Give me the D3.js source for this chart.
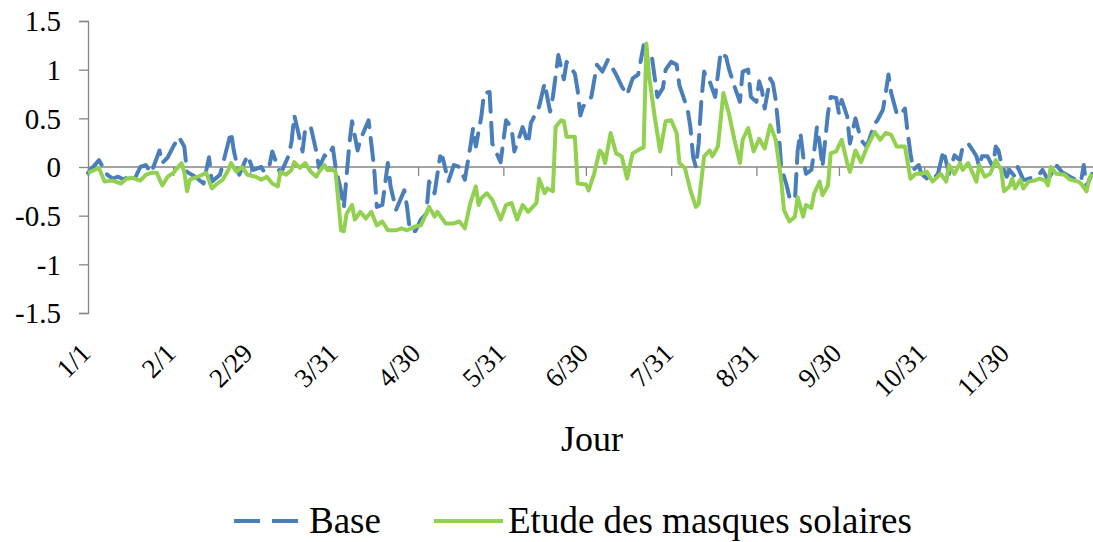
<!DOCTYPE html>
<html>
<head>
<meta charset="utf-8">
<script src="https://cdn.jsdelivr.net/npm/d3@7"></script>
<style>
  html, body { margin: 0; padding: 0; background: #fff; }
  svg { display: block; }
  svg text { font-family: "Liberation Serif", "Times New Roman", Times, serif; fill: #000; }
</style>
</head>
<body>
<svg id="chart" width="1093" height="542" font-family="Liberation Serif, Times New Roman, serif"></svg>
<script>
// Day-of-year tick positions and their labels (leap year)
const tickDays = [1, 32, 60, 91, 121, 152, 182, 213, 244, 274, 305, 335];
const tickLabels = ["1/1", "2/1", "2/29", "3/31", "4/30", "5/31", "6/30", "7/31", "8/31", "9/30", "10/31", "11/30"];
const yTicks = [-1.5, -1, -0.5, 0, 0.5, 1, 1.5];

// Series: [day, value]
const baseSeries = [
  [1,-0.06],[5,0.07],[8,-0.08],[10,-0.12],[12,-0.1],[14,-0.13],[16,-0.09],[18,-0.12],[20,0],[22,0.02],
  [24,-0.06],[27,0.17],[28,0.04],[30,0.1],[32,0.21],[34,0.31],[36,0.21],[37,-0.05],[40,-0.1],[43,-0.17],
  [45,0.1],[46,-0.15],[49,-0.08],[51,0.14],[53,0.36],[54,0.17],[56,-0.08],[59,0.12],[61,-0.03],[64,0],
  [65,-0.05],[67,0.02],[68,0.16],[70,0],[71,-0.07],[74,0.12],[75,0.26],[76,0.53],[77,0.41],[79,0.16],
  [80,0.4],[82,0.41],[84,0.16],[85,-0.01],[87,0.12],[88,0.1],[90,0.2],[91,0],[93,-0.25],[94,-0.42],
  [96,0.23],[97,0.47],[99,0.17],[100,0.28],[103,0.48],[105,0.0],[106,-0.41],[108,-0.39],[110,0.04],[111,-0.2],
  [113,-0.44],[116,-0.24],[117,-0.41],[118,-0.65],[120,-0.66],[122,-0.54],[124,-0.48],[125,-0.15],[127,-0.27],[129,0.11],
  [130,0.09],[132,-0.15],[134,0.02],[136,0],[138,-0.13],[140,0.21],[141,0.4],[142,0.21],[144,0.52],[145,0.76],
  [147,0.77],[148,0.24],[151,0.05],[153,0.48],[155,0.4],[156,0.16],[159,0.41],[161,0.24],[162,0.45],[165,0.62],
  [167,0.86],[169,0.57],[170,0.72],[172,1.15],[174,0.9],[175,1.08],[178,0.96],[179,0.79],[180,0.53],[181,0.62],
  [184,0.72],[186,1.05],[188,0.98],[190,1.1],[193,0.95],[195,0.83],[197,0.74],[199,0.91],[201,0.95],[203,1.25],
  [206,1.13],[208,0.72],[210,0.81],[211,1.0],[213,1.08],[215,1.05],[216,0.84],[219,0.59],[220,0.41],[221,0.1],
  [222,0],[223,0.24],[224,0.69],[225,0.98],[226,0.89],[227,0.88],[229,0.72],[231,1.18],[233,1.13],[234,1.01],
  [236,0.83],[238,0.67],[239,0.98],[241,1.0],[242,0.72],[244,0.67],[245,0.88],[246,0.79],[247,0.6],[249,0.91],
  [250,0.86],[251,0.69],[252,0.41],[253,0],[255,-0.19],[256,-0.31],[258,-0.34],[259,0.17],[260,0.35],[261,0.11],
  [262,-0.07],[264,-0.03],[265,0.16],[266,0.41],[267,0.24],[268,0],[270,0.55],[271,0.72],[273,0.71],[274,0.55],
  [275,0.69],[277,0.52],[278,0.24],[280,0.5],[282,0.28],[284,0.21],[285,0.28],[287,0.45],[288,0.48],[290,0.59],
  [291,0.76],[292,0.95],[293,0.76],[295,0.55],[296,0.53],[298,0.6],[299,0.35],[300,0.14],[301,-0.03],[303,0.02],
  [304,-0.07],[306,-0.12],[308,-0.13],[310,-0.07],[312,0.17],[314,-0.07],[316,0.12],[318,0.07],[319,0.21],[321,0.24],
  [322,0.2],[324,0.11],[325,0],[326,0.11],[328,0.11],[330,0],[331,0.21],[332,0.17],[333,0.04],[335,-0.1],
  [336,-0.03],[338,-0.1],[339,0],[341,-0.13],[342,-0.13],[345,-0.1],[347,-0.07],[348,-0.03],[350,-0.13],[353,0.02],
  [355,-0.05],[358,-0.1],[360,-0.13],[362,-0.15],[363,0.02],[364,-0.2],[366,-0.07]
];

const masquesSeries = [
  [1,-0.06],[5,-0.01],[7,-0.15],[10,-0.14],[13,-0.17],[15,-0.12],[17,-0.11],[20,-0.14],[22,-0.08],[24,-0.06],
  [26,-0.06],[28,-0.19],[30,-0.1],[32,-0.06],[35,0.04],[36,-0.05],[37,-0.25],[38,-0.13],[41,-0.1],[44,-0.06],
  [46,-0.22],[48,-0.17],[50,-0.13],[52,-0.03],[53,0.04],[55,-0.05],[57,0],[59,-0.08],[62,-0.1],[64,-0.13],
  [66,-0.1],[68,-0.17],[70,-0.2],[71,-0.05],[73,-0.08],[75,-0.03],[76,0.05],[78,-0.01],[80,0.04],[82,-0.05],
  [84,-0.1],[85,-0.05],[87,0.02],[88,-0.03],[90,-0.03],[91,-0.05],[93,-0.65],[94,-0.66],[95,-0.48],[97,-0.39],
  [98,-0.54],[100,-0.46],[102,-0.53],[104,-0.46],[106,-0.6],[108,-0.56],[110,-0.65],[113,-0.65],[115,-0.63],[117,-0.65],
  [120,-0.61],[122,-0.6],[123,-0.54],[125,-0.41],[127,-0.51],[128,-0.46],[131,-0.58],[134,-0.58],[136,-0.56],[138,-0.63],
  [140,-0.37],[142,-0.2],[143,-0.39],[144,-0.32],[146,-0.27],[148,-0.34],[151,-0.54],[153,-0.39],[155,-0.37],[157,-0.54],
  [159,-0.39],[161,-0.46],[164,-0.37],[165,-0.12],[167,-0.27],[168,-0.22],[170,-0.25],[171,0.41],[173,0.48],[174,0.47],
  [175,0.31],[178,0.31],[179,-0.17],[182,-0.18],[183,-0.24],[185,-0.07],[187,0.17],[188,0.14],[189,0.04],[191,0.35],
  [193,0.14],[195,0.11],[197,-0.12],[199,0.14],[202,0.19],[203,0.2],[204,1.27],[205,0.93],[207,0.52],[209,0.16],
  [211,0.47],[213,0.48],[215,0.35],[216,0.04],[218,-0.01],[220,-0.24],[222,-0.41],[223,-0.38],[225,0.11],[227,0.17],
  [228,0.11],[230,0.21],[232,0.76],[234,0.55],[236,0.28],[238,0.04],[239,0.28],[241,0.4],[243,0.16],[245,0.29],
  [247,0.19],[249,0.43],[251,0.28],[253,-0.13],[254,-0.44],[256,-0.56],[258,-0.51],[259,-0.31],[261,-0.51],[262,-0.39],
  [264,-0.42],[265,-0.27],[267,-0.15],[268,-0.29],[270,-0.19],[271,0.14],[273,0.16],[275,0.28],[277,0.04],[278,-0.05],
  [280,0.17],[282,0.05],[284,0.19],[287,0.36],[289,0.28],[291,0.35],[293,0.33],[295,0.21],[298,0.21],[300,-0.12],
  [302,-0.07],[304,-0.07],[306,-0.05],[307,-0.1],[308,-0.15],[311,-0.07],[313,-0.15],[314,0.02],[316,-0.07],[318,0.04],
  [319,-0.03],[321,0.04],[324,-0.15],[325,0.02],[327,-0.1],[329,-0.07],[331,0.07],[333,-0.03],[334,-0.25],[336,-0.2],
  [337,-0.12],[338,-0.22],[340,-0.13],[341,-0.22],[343,-0.15],[345,-0.14],[347,-0.12],[349,-0.14],[350,-0.19],[351,0],
  [353,-0.07],[356,-0.08],[358,-0.13],[361,-0.15],[362,-0.17],[364,-0.25],[365,-0.12],[366,-0.07]
];

const seriesNames = ["Base", "Etude des masques solaires"];
const seriesColors = ["#4a7ebb", "#92d050"];
const axisTitle = "Jour";

const svg = d3.select("#chart");
const axisColor = "#868686";
const serif = "Liberation Serif, Times New Roman, serif";

const x = d3.scaleLinear().domain([1, 366]).range([88, 1092]);
const y = d3.scaleLinear().domain([-1.5, 1.5]).range([313, 21]);

// Y axis
const yAxis = d3.axisLeft(y).tickValues(yTicks).tickSize(9).tickPadding(18)
  .tickFormat(d => String(d));
const gy = svg.append("g").attr("transform", `translate(${x(1)},0)`).call(yAxis)
  .attr("font-family", serif);
gy.select(".domain").attr("stroke", axisColor).attr("stroke-width", 1.3);
gy.selectAll(".tick line").attr("stroke", axisColor).attr("stroke-width", 1.3);
gy.selectAll(".tick text").attr("font-size", 29).attr("fill", "#000").attr("dy", "0.34em");

// X axis along zero
const xAxis = d3.axisBottom(x).tickValues(tickDays).tickSize(9).tickFormat("");
const gx = svg.append("g").attr("transform", `translate(0,${y(0)})`).call(xAxis);
gx.select(".domain").attr("stroke", axisColor).attr("stroke-width", 1.3).attr("d", `M${x(1)},0H1093`);
gx.selectAll(".tick line").attr("stroke", axisColor).attr("stroke-width", 1.3);

// Rotated date labels below the plot
svg.append("g").attr("font-family", serif).selectAll("text").data(tickDays).join("text")
  .attr("transform", d => `translate(${x(d) + 4},355) rotate(-45)`)
  .attr("text-anchor", "end")
  .attr("font-size", 27)
  .text((d, i) => tickLabels[i]);

// Axis title
svg.append("text").attr("x", 592).attr("y", 451).attr("text-anchor", "middle")
  .attr("font-family", serif).attr("font-size", 36).text(axisTitle);

// Lines
const line = d3.line().x(d => x(d[0])).y(d => y(d[1]));
svg.append("path").datum(baseSeries).attr("d", line)
  .attr("fill", "none").attr("stroke", seriesColors[0]).attr("stroke-width", 4)
  .attr("stroke-dasharray", "22 11").attr("stroke-linecap", "round").attr("stroke-linejoin", "round");
svg.append("path").datum(masquesSeries).attr("d", line)
  .attr("fill", "none").attr("stroke", seriesColors[1]).attr("stroke-width", 4)
  .attr("stroke-linejoin", "round");

// Legend
const legend = svg.append("g").attr("font-family", serif);
const legendItems = [
  { x0: 234, tx: 309, dash: "26 12" },
  { x0: 434, tx: 508, dash: null }
];
legendItems.forEach((it, i) => {
  legend.append("line").attr("x1", it.x0).attr("x2", it.x0 + 69).attr("y1", 521).attr("y2", 521)
    .attr("stroke", seriesColors[i]).attr("stroke-width", 4)
    .attr("stroke-dasharray", it.dash);
  legend.append("text").attr("x", it.tx).attr("y", 533).attr("font-size", 37).text(seriesNames[i]);
});
</script>
</body>
</html>
